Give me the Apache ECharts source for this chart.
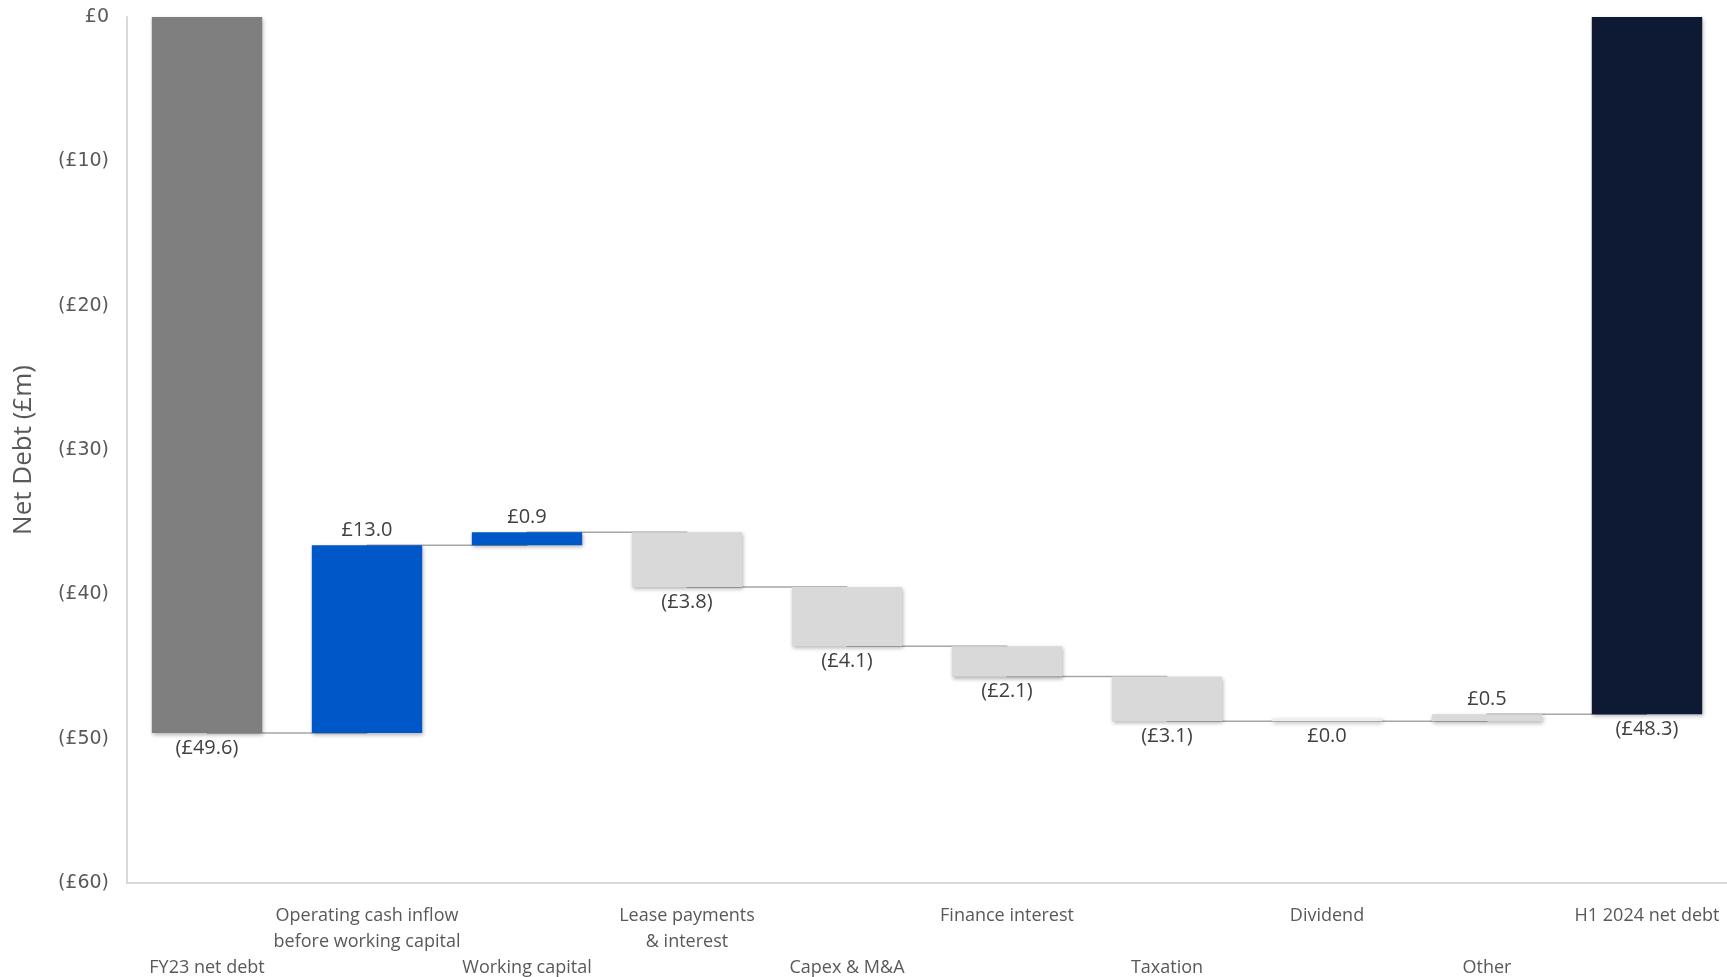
<!DOCTYPE html>
<html>
<head>
<meta charset="utf-8">
<title>Net debt bridge</title>
<script src="https://cdn.jsdelivr.net/npm/echarts@6/dist/echarts.min.js"></script>
<style>
  html, body { margin: 0; padding: 0; background: #fff; }
  #main { width: 1727px; height: 977px; }
</style>
</head>
<body>
<div id="main"></div>
<script>
// categories along the bridge
var categories = ['FY23 net debt', 'Operating cash inflow\nbefore working capital', 'Working capital',
  'Lease payments\n& interest', 'Capex & M&A', 'Finance interest', 'Taxation', 'Dividend', 'Other', 'H1 2024 net debt'];
// opening / closing totals and movements in between (£m)
var openingDebt = -49.6;
var movements = [13.0, 0.9, -3.8, -4.1, -2.1, -3.1, 0.0, 0.5];
var closingDebt = -48.3;

var colors = ['#7f7f7f', '#0057c8', '#0057c8', '#d9d9d9', '#d9d9d9', '#d9d9d9', '#d9d9d9', '#eeeeee', '#d9d9d9', '#0e1a33'];

function money(v) {
  var s = '£' + Math.abs(v).toFixed(1);
  return v < 0 ? '(' + s + ')' : s;
}

// build the waterfall: invisible base + visible piece, and the running level for connectors
var baseData = [], barData = [], levels = [];
var running = openingDebt;
baseData.push(0);
barData.push({ value: openingDebt, raw: openingDebt });
levels.push(openingDebt);
movements.forEach(function (m) {
  var start = running, end = running + m;
  var top = Math.max(start, end), bottom = Math.min(start, end);
  baseData.push(+top.toFixed(2));
  barData.push({ value: +(bottom - top).toFixed(2), raw: m });
  running = end;
  levels.push(+end.toFixed(2));
});
baseData.push(0);
barData.push({ value: closingDebt, raw: closingDebt });
levels.push(closingDebt);

barData.forEach(function (d, i) {
  d.itemStyle = { color: colors[i] };
  d.label = { position: d.raw > 0 ? 'top' : 'bottom' };
});

var chart = echarts.init(document.getElementById('main'));
chart.setOption({
  animation: false,
  grid: { left: 127, right: 0, top: 17, bottom: 94, outerBoundsMode: 'none' },
  xAxis: {
    type: 'category',
    data: categories,
    axisLine: { onZero: false, lineStyle: { color: '#d9d9d9', width: 2 } },
    axisTick: { show: false },
    axisLabel: {
      interval: 0,
      margin: 20,
      fontFamily: 'Open Sans',
      fontSize: 18,
      lineHeight: 26,
      color: '#595959',
      verticalAlign: 'top',
      formatter: function (v, i) { return i % 2 === 0 ? '\n\n' + v : v; }
    }
  },
  yAxis: {
    type: 'value',
    min: -60,
    max: 0,
    interval: 10,
    name: 'Net Debt (£m)',
    nameLocation: 'middle',
    nameGap: 90,
    nameTextStyle: { fontFamily: 'Open Sans', fontSize: 26, color: '#595959' },
    axisLine: { show: true, lineStyle: { color: '#d9d9d9', width: 2 } },
    axisTick: { show: false },
    splitLine: { show: false },
    axisLabel: {
      margin: 18,
      fontFamily: 'DejaVu Sans',
      fontSize: 19,
      color: '#595959',
      verticalAlign: 'middle',
      formatter: function (v) { return v === 0 ? '£0' : '(£' + Math.abs(v) + ')'; }
    }
  },
  series: [
    {
      type: 'line',
      data: levels,
      step: 'end',
      symbol: 'none',
      z: 1,
      lineStyle: { color: '#a6a6a6', width: 1.5 }
    },
    {
      type: 'bar',
      stack: 'w',
      data: baseData,
      barWidth: '69%',
      itemStyle: { color: 'transparent' },
      z: 2
    },
    {
      type: 'bar',
      stack: 'w',
      data: barData,
      barWidth: '69%',
      barMinHeight: 3,
      z: 3,
      itemStyle: {
        shadowBlur: 4,
        shadowOffsetX: 1,
        shadowOffsetY: 2,
        shadowColor: 'rgba(0,0,0,0.3)'
      },
      label: {
        show: true,
        distance: 5,
        fontFamily: 'Open Sans',
        fontSize: 20,
        color: '#404040',
        formatter: function (p) { return money(p.data.raw); }
      }
    }
  ]
});
</script>
</body>
</html>
